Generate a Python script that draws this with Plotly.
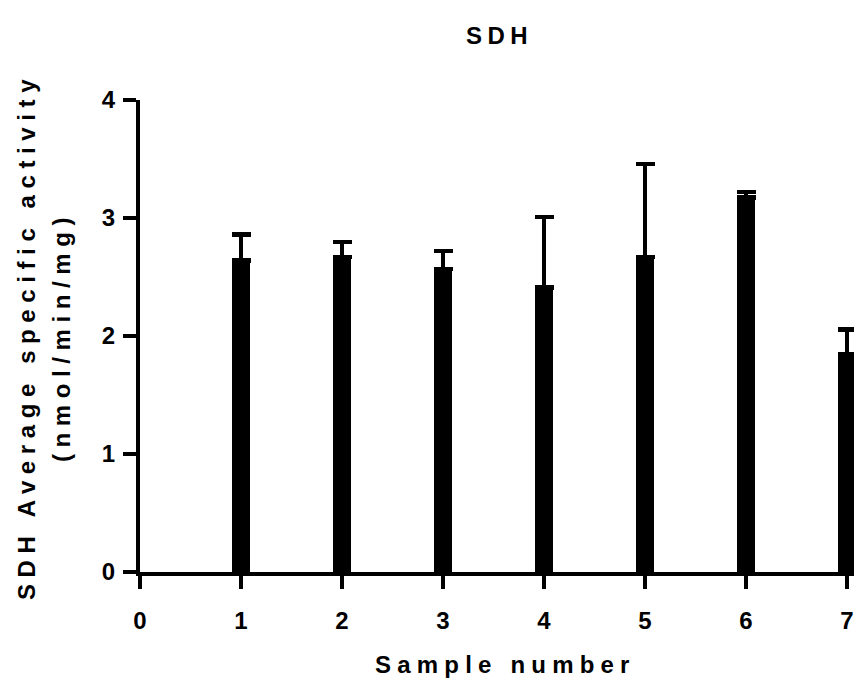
import plotly.graph_objects as go

# SDH average specific activity per sample (nmol/min/mg)
samples = [1, 2, 3, 4, 5, 6, 7]
mean_activity = [2.64, 2.67, 2.565, 2.41, 2.67, 3.175, 1.85]
sem_upper = [0.22, 0.125, 0.155, 0.60, 0.785, 0.045, 0.205]

FONT = "Liberation Sans, Arial, Helvetica, sans-serif"

W, H = 854, 687
L, R, T, B = 140, 0, 100, 115

fig = go.Figure()
fig.add_trace(go.Bar(
    x=samples,
    y=mean_activity,
    width=0.185,
    marker=dict(color="black", line=dict(width=0)),
    error_y=dict(
        type="data",
        array=sem_upper,
        arrayminus=[0] * len(samples),
        symmetric=False,
        color="black",
        thickness=4.3,
        width=9.5,
    ),
    cliponaxis=True,
))

axis_common = dict(
    showline=True,
    linecolor="black",
    linewidth=4,
    ticks="outside",
    ticklen=13,
    tickwidth=4,
    tickcolor="black",
    showgrid=False,
    zeroline=False,
    tickfont=dict(family=FONT, size=24, color="black", weight="bold"),
)

fig.update_xaxes(
    range=[0, (W - L - R) / 101.0],
    tickmode="array",
    tickvals=[0, 1, 2, 3, 4, 5, 6, 7],
    ticktext=["0", "1", "2", "3", "4", "5", "6", "7"],
    ticklabelstandoff=11,
    **axis_common,
)
fig.update_yaxes(
    range=[0, 4],
    tickmode="array",
    tickvals=[0, 1, 2, 3, 4],
    ticktext=["0", "1", "2", "3", "4"],
    ticklabelstandoff=3,
    **axis_common,
)

plot_w = W - L - R
plot_h = H - T - B


def px_x(px):
    return (px - L) / plot_w


def px_y(py):
    return 1 - (py - T) / plot_h


def spaced(text, gap):
    return f'<span style="letter-spacing:{gap}px">{text}</span>'


title_font = dict(family=FONT, size=24, color="black", weight="bold")

fig.add_annotation(text=spaced("SDH", 5.5), x=px_x(499), y=px_y(35), xref="paper", yref="paper",
                   showarrow=False, font=title_font, xanchor="center", yanchor="middle")
fig.add_annotation(text=spaced("Sample number", 6.2), x=px_x(506), y=px_y(664),
                   xref="paper", yref="paper",
                   showarrow=False, font=title_font, xanchor="center", yanchor="middle")
fig.add_annotation(text=spaced("SDH Average specific activity", 6.6), x=px_x(26), y=px_y(337),
                   xref="paper", yref="paper", textangle=-90, showarrow=False,
                   font=title_font, xanchor="center", yanchor="middle")
fig.add_annotation(text=spaced("(nmol/min/mg)", 6.6), x=px_x(61), y=px_y(337),
                   xref="paper", yref="paper", textangle=-90, showarrow=False,
                   font=title_font, xanchor="center", yanchor="middle")

fig.update_layout(
    width=W,
    height=H,
    margin=dict(l=L, r=R, t=T, b=B, pad=0),
    plot_bgcolor="white",
    paper_bgcolor="white",
    showlegend=False,
    bargap=0,
)

fig.write_html("out.html")
